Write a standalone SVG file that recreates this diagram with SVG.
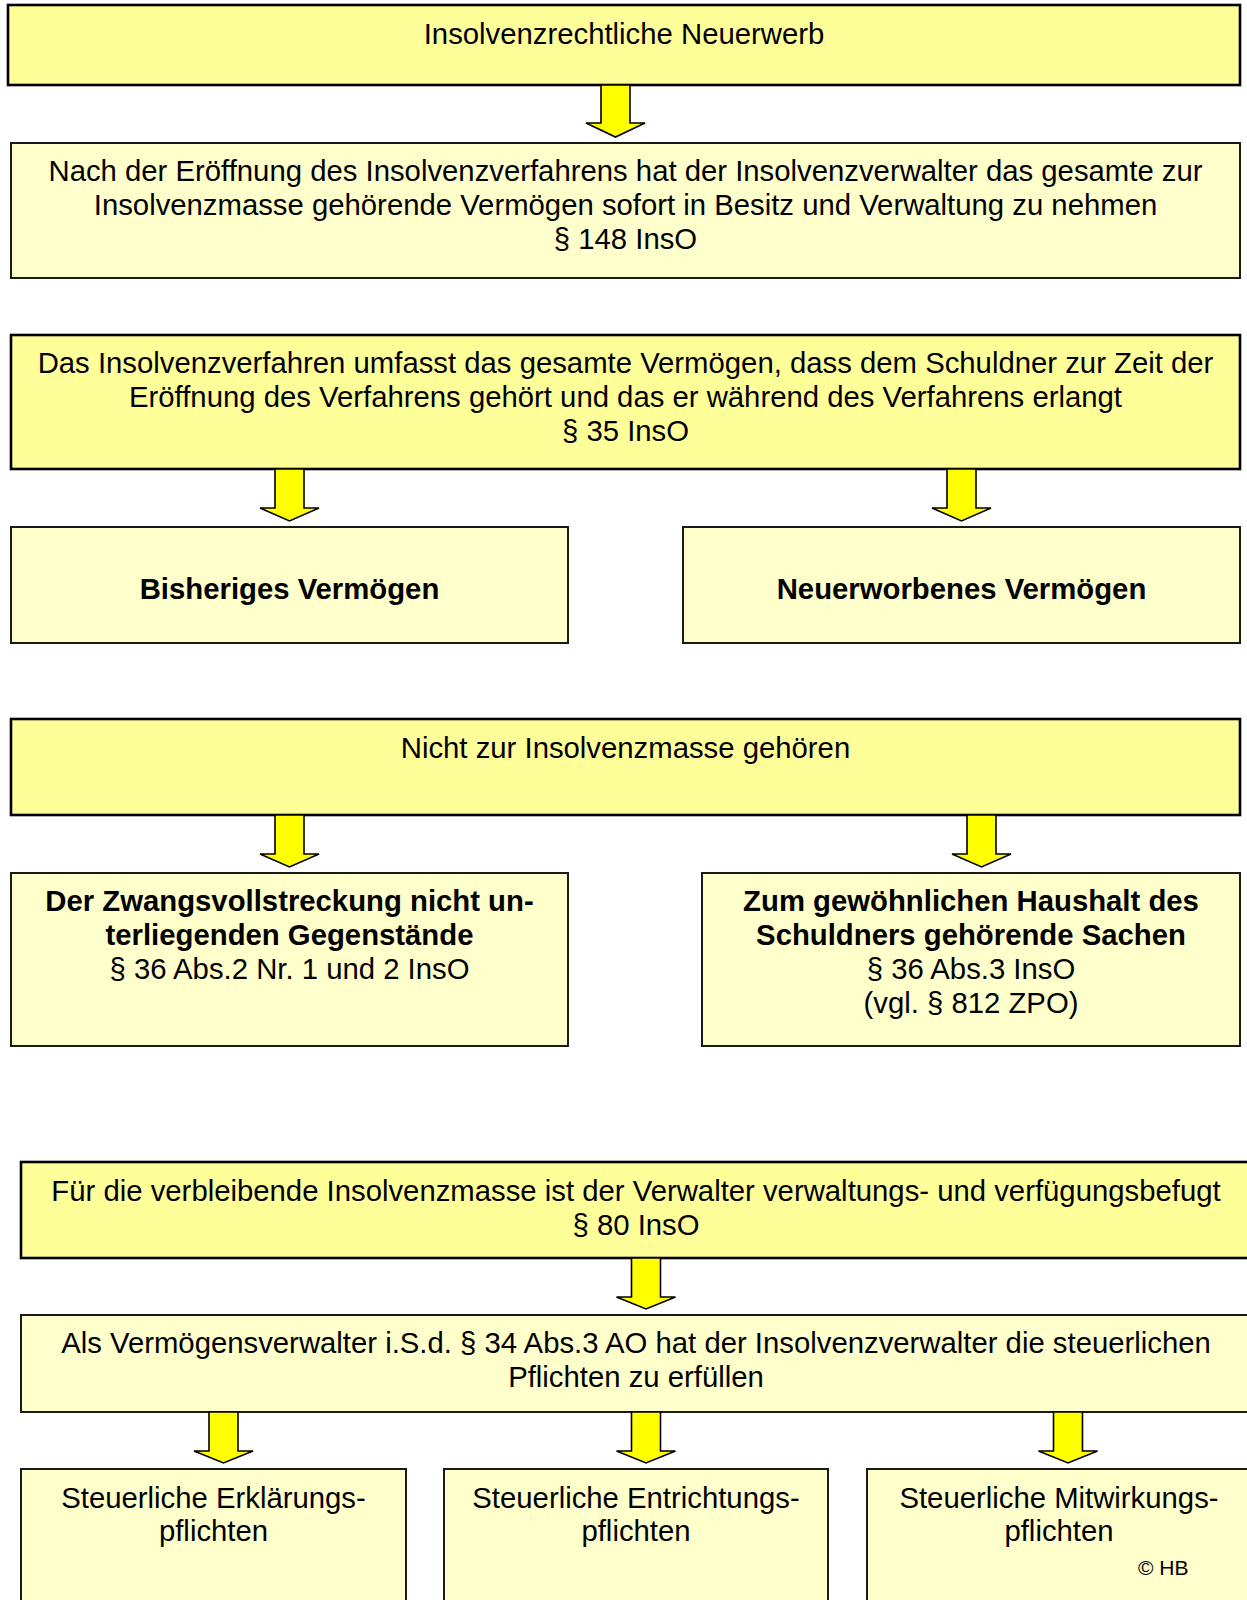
<svg xmlns="http://www.w3.org/2000/svg" width="1247" height="1600" viewBox="0 0 1247 1600">
<style>
text{font-family:"Liberation Sans",Arial,sans-serif;font-size:29.3px;fill:#000;text-anchor:middle}
.b{font-weight:bold}
.hd{fill:#FFFF99;stroke:#000;stroke-width:2.6}
.lt{fill:#FFFFCC;stroke:#1a1a1a;stroke-width:2}
.ar{fill:#FFFF00;stroke:#000;stroke-width:1.6;stroke-linejoin:miter}
.cp{font-size:21px;text-anchor:start}
</style>
<rect width="1247" height="1600" fill="#fff"/>
<g id="n1"><rect class="hd" x="8" y="5" width="1232" height="80"/><text x="624" y="44">Insolvenzrechtliche Neuerwerb</text></g>
<g id="n2"><rect class="lt" x="11" y="143" width="1229" height="135"/>
<text x="625.5" y="181">Nach der Eröffnung des Insolvenzverfahrens hat der Insolvenzverwalter das gesamte zur</text>
<text x="625.5" y="215">Insolvenzmasse gehörende Vermögen sofort in Besitz und Verwaltung zu nehmen</text>
<text x="625.5" y="249">§ 148 InsO</text></g>
<g id="n3"><rect class="hd" x="11" y="335" width="1229" height="134"/>
<text x="625.5" y="373">Das Insolvenzverfahren umfasst das gesamte Vermögen, dass dem Schuldner zur Zeit der</text>
<text x="625.5" y="407">Eröffnung des Verfahrens gehört und das er während des Verfahrens erlangt</text>
<text x="625.5" y="441">§ 35 InsO</text></g>
<g id="n4"><rect class="lt" x="11" y="527" width="557" height="116"/><text class="b" x="289.5" y="599">Bisheriges Vermögen</text></g>
<g id="n5"><rect class="lt" x="683" y="527" width="557" height="116"/><text class="b" x="961.5" y="599">Neuerworbenes Vermögen</text></g>
<g id="n6"><rect class="hd" x="11" y="719" width="1229" height="96"/><text x="625.5" y="758">Nicht zur Insolvenzmasse gehören</text></g>
<g id="n7"><rect class="lt" x="11" y="873" width="557" height="173"/>
<text class="b" x="289.5" y="911">Der Zwangsvollstreckung nicht un-</text>
<text class="b" x="289.5" y="945">terliegenden Gegenstände</text>
<text x="289.5" y="979">§ 36 Abs.2 Nr. 1 und 2 InsO</text></g>
<g id="n8"><rect class="lt" x="702" y="873" width="538" height="173"/>
<text class="b" x="971" y="911">Zum gewöhnlichen Haushalt des</text>
<text class="b" x="971" y="945">Schuldners gehörende Sachen</text>
<text x="971" y="979">§ 36 Abs.3 InsO</text>
<text x="971" y="1013">(vgl. § 812 ZPO)</text></g>
<g id="n9"><rect class="hd" x="21" y="1162" width="1230" height="96"/>
<text x="636" y="1201">Für die verbleibende Insolvenzmasse ist der Verwalter verwaltungs- und verfügungsbefugt</text>
<text x="636" y="1235">§ 80 InsO</text></g>
<g id="n10"><rect class="lt" x="21" y="1315" width="1230" height="97"/>
<text x="636" y="1353">Als Vermögensverwalter i.S.d. § 34 Abs.3 AO hat der Insolvenzverwalter die steuerlichen</text>
<text x="636" y="1387">Pflichten zu erfüllen</text></g>
<g id="n11"><rect class="lt" x="21" y="1469" width="385" height="145"/>
<text x="213.5" y="1508">Steuerliche Erklärungs-</text>
<text x="213.5" y="1541">pflichten</text></g>
<g id="n12"><rect class="lt" x="444" y="1469" width="384" height="145"/>
<text x="636" y="1508">Steuerliche Entrichtungs-</text>
<text x="636" y="1541">pflichten</text></g>
<g id="n13"><rect class="lt" x="867" y="1469" width="384" height="145"/>
<text x="1059" y="1508">Steuerliche Mitwirkungs-</text>
<text x="1059" y="1541">pflichten</text>
<text class="cp" x="1138" y="1575">© HB</text></g>
<g id="connectors">
<polygon class="ar" points="601,85 630,85 630,123 645,123 615.5,137 586,123 601,123"/>
<polygon class="ar" points="275,469 304,469 304,508 319,508 289.5,521 260,508 275,508"/>
<polygon class="ar" points="947,469 976,469 976,508 991,508 961.5,521 932,508 947,508"/>
<polygon class="ar" points="275,815 304,815 304,854 319,854 289.5,867 260,854 275,854"/>
<polygon class="ar" points="967,815 996,815 996,854 1011,854 981.5,867 952,854 967,854"/>
<polygon class="ar" points="631.5,1258 660.5,1258 660.5,1297 675.5,1297 646,1309 616.5,1297 631.5,1297"/>
<polygon class="ar" points="209,1412 238,1412 238,1451 253,1451 223.5,1463 194,1451 209,1451"/>
<polygon class="ar" points="631.5,1412 660.5,1412 660.5,1451 675.5,1451 646,1463 616.5,1451 631.5,1451"/>
<polygon class="ar" points="1053.5,1412 1082.5,1412 1082.5,1451 1097.5,1451 1068,1463 1038.5,1451 1053.5,1451"/>
</g>
</svg>
